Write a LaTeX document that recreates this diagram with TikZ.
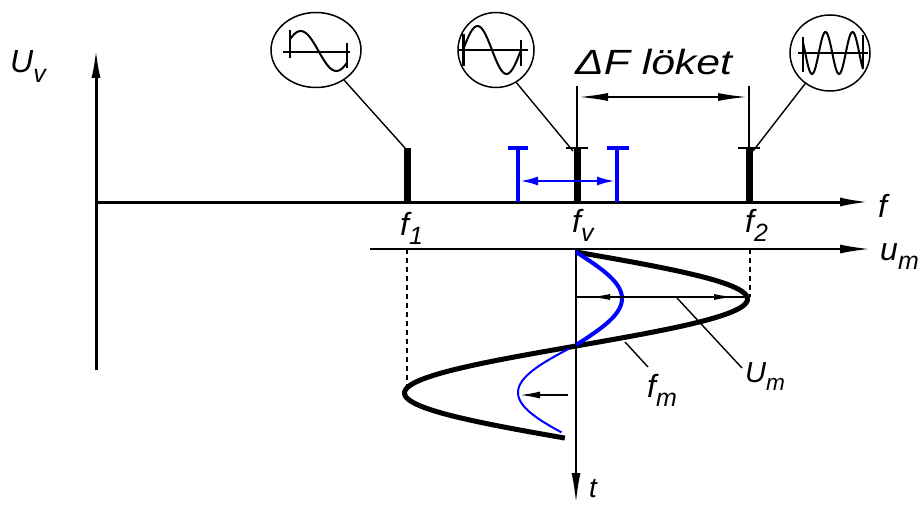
\documentclass[tikz,border=0pt]{standalone}
\usepackage{fontspec}
\usepackage{graphicx}
\setmainfont{Liberation Sans}
\usetikzlibrary{arrows.meta,shapes.geometric}
\newcommand{\lbsub}[2]{#1\raisebox{-0.3em}{\scalebox{0.78}{#2}}}
\begin{document}
\begin{tikzpicture}[x=1pt,y=-1pt,
  axisthick/.style={line width=3pt,-{Latex[length=30pt,width=9pt]}},
  axisthin/.style={line width=2pt,-{Latex[length=30pt,width=9pt]}},
  barline/.style={line width=7pt},
  serif/.style={line width=2.5pt},
  lead/.style={line width=1.4pt},
  wave/.style={line width=2pt},
  circ/.style={ellipse,draw,line width=1.5pt,inner sep=0pt},
  bluebr/.style={blue,line width=3.5pt},
  bluearr/.style={blue,line width=2.5pt,-{Latex[length=18pt,width=9pt]}},
  curve/.style={line width=5pt},
  lbl/.style={font=\fontsize{32}{38}\selectfont\itshape,inner sep=0pt,anchor=base west},
  dashv/.style={line width=1.2pt,dash pattern=on 5pt off 4pt}
]
\path[use as bounding box] (0,0) rectangle (920,505);

% axes
\coordinate (Ubot) at (96,370);
\coordinate (Utop) at (96,48);
\coordinate (O) at (96,202);
\coordinate (fend) at (870,202);
\coordinate (umstart) at (370,249);
\coordinate (umend) at (870,249);
\coordinate (tstart) at (576,249);
\coordinate (tend) at (576,503);
\draw[axisthick] (Ubot) -- (Utop);
\draw[axisthick] (O) -- (fend);
\draw[axisthin] (umstart) -- (umend);
\draw[axisthin] (tstart) -- (tend);

% spectral bars
\coordinate (f1b) at (407,202); \coordinate (f1t) at (407,148);
\coordinate (fvb) at (577,202); \coordinate (fvt) at (577,148); \coordinate (fvtop) at (577,86);
\coordinate (f2b) at (749,202); \coordinate (f2t) at (749,148); \coordinate (f2top) at (749,86);
\draw[barline] (f1b) -- (f1t);
\draw[barline] (fvb) -- (fvt);
\draw[barline] (f2b) -- (f2t);
\draw[serif] ([xshift=-11pt]fvt) -- ([xshift=11pt]fvt);
\draw[serif] ([xshift=-11pt]f2t) -- ([xshift=11pt]f2t);
\draw[line width=2.5pt] (fvt) -- (fvtop);
\draw[line width=2.5pt] (f2t) -- (f2top);
\coordinate (dfl) at (578,97); \coordinate (dfr) at (748,97);
\draw[line width=2pt,{Latex[length=30pt,width=8pt]}-{Latex[length=30pt,width=8pt]}] (dfl) -- (dfr);
\node[lbl,font=\fontsize{35}{40}\selectfont\itshape] (dflabel) at (575,75) {\scalebox{1.22}[1]{ΔF löket}};

% circles with waveforms
\node[circ,minimum width=90pt,minimum height=75pt] (c1) at (316,50) {};
\node[circ,minimum width=76pt,minimum height=75pt] (c2) at (496,50) {};
\node[circ,minimum width=80pt,minimum height=76pt] (c3) at (830,53) {};
% c1
\draw[line width=1.5pt] (283,52) -- (350,52);
\draw[wave] (290,30) -- (290,58);
\draw[wave] (347,43) -- (347,68);
\draw[wave] plot[domain=-0.3:1.3,samples=40,variable=\s] ({290+57*(\s+0.3)/1.6},{51-20*cos(180*\s)});
% c2
\draw[line width=1.5pt] (459,50) -- (528,50);
\draw[line width=3pt] (463,34) -- (463,66);
\draw[wave] (521,40) -- (521,66);
\draw[wave] plot[domain=0:1,samples=40,variable=\s] ({463+58*\s},{50-24*sin(360*\s)});
% c3
\draw[line width=1.5pt] (798,53) -- (868,53);
\draw[wave] (803,37) -- (803,72);
\draw[wave] (863,35) -- (863,68);
\draw[wave] plot[domain=0:1,samples=80,variable=\s] ({803+60*\s},{53+21*sin(800*\s-30)});
% leaders
\draw[lead] (c1.-47) -- ([xshift=-2pt]f1t);
\draw[lead] (c2.-58) -- ([xshift=-4pt,yshift=-3pt]fvt);
\draw[lead] (c3.-129) -- ([xshift=4pt,yshift=-3pt]f2t);

% blue deviation
\coordinate (bl) at (518,202); \coordinate (blt) at (518,148);
\coordinate (br) at (617,202); \coordinate (brt) at (617,148);
\draw[bluebr] (bl) -- (blt);
\draw[bluebr] (br) -- (brt);
\draw[blue,line width=4pt] ([xshift=-10pt]blt) -- ([xshift=10pt]blt);
\draw[blue,line width=4pt] ([xshift=-10pt]brt) -- ([xshift=12pt]brt);
\coordinate (bc) at (580,181);
\draw[bluearr] (bc) -- (520,181);
\draw[bluearr] (bc) -- (615,181);

% labels of axes
\node[lbl] (Uv) at (10,73) {\lbsub{U}{v}};
\node[lbl] (flab) at (878,217) {f};
\node[lbl] (f1lab) at (400,235) {\lbsub{f}{1}};
\node[lbl] (fvlab) at (572,232) {\lbsub{f}{v}};
\node[lbl] (f2lab) at (745,232) {\lbsub{f}{2}};
\node[lbl] (umlab) at (880,260) {\lbsub{u}{m}};
\node[lbl,font=\fontsize{28}{32}\selectfont\itshape] (tlab) at (589,497) {t};

% dashed projections
\coordinate (f1d) at (407,393);
\coordinate (f2d) at (750,297);
\draw[dashv] (407,249) -- (f1d);
\draw[dashv] (750,249) -- (f2d);

% modulating curve
\draw[curve] plot[domain=0:1.98,samples=120,variable=\t] ({576+171.5*sin(180*\t)},{252+94*\t});
\draw[blue,line width=4pt] plot[domain=0:1,samples=50,variable=\t] ({576+46*sin(180*\t)},{252+93*\t});
\draw[blue,line width=2pt] plot[domain=0.04:0.92,samples=50,variable=\t] ({576-58*sin(180*\t)},{345+95*\t});

% amplitude arrows
\coordinate (ax1) at (577,297);
\coordinate (pk) at (748,297);
\draw[line width=1.5pt] (ax1) -- (pk);
\draw[line width=1.5pt,{Latex[length=20pt,width=6pt]}-{Latex[length=20pt,width=6pt]},shorten <=13pt,shorten >=14pt] (ax1) -- (pk);
\coordinate (la1) at (568,395);
\coordinate (la2) at (520,395);
\draw[line width=1.5pt,-{Latex[length=20pt,width=7pt]}] (la1) -- (la2);

% leaders for Um and fm
\coordinate (umfrom) at (677,298); \coordinate (umto) at (742,368);
\coordinate (fmfrom) at (625,342); \coordinate (fmto) at (648,367);
\draw[lead] (umfrom) -- (umto);
\draw[lead] (fmfrom) -- (fmto);
\node[lbl,font=\fontsize{29}{34}\selectfont\itshape] (Umlab) at (745,382) {\lbsub{U}{m}};
\node[lbl,font=\fontsize{32}{38}\selectfont\itshape] (fmlab) at (647,397) {\lbsub{f}{m}};
\end{tikzpicture}
\end{document}
